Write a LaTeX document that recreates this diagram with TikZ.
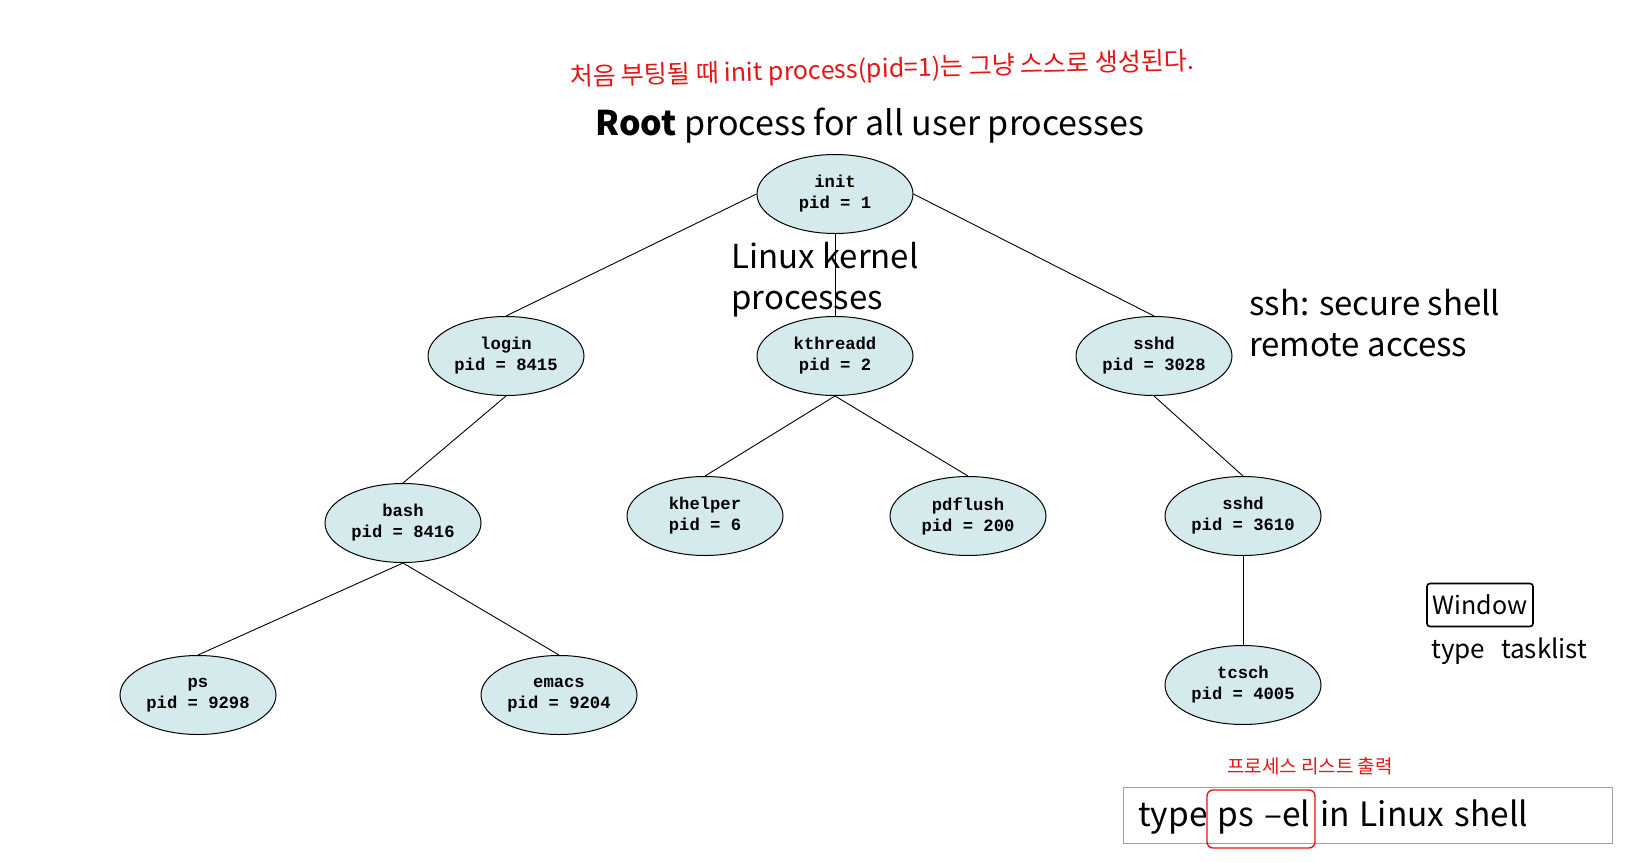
\documentclass[tikz,border=0pt]{standalone}
\usepackage{fontspec}
\usetikzlibrary{shapes.geometric}
\newfontfamily\krfont{Noto Sans CJK KR}
\setmonofont{Liberation Mono}
\definecolor{procfill}{RGB}{213,234,237}
\definecolor{boxgray}{RGB}{160,160,160}
\definecolor{penred}{RGB}{230,20,20}
\tikzset{
  proc/.style={ellipse, draw=black, line width=1pt, fill=procfill, minimum width=156pt, minimum height=79pt, inner sep=0pt, align=center, font=\ttfamily\bfseries\fontsize{17.2}{21}\selectfont},
  edge/.style={draw=black, line width=0.9pt},
  bigtext/.style={font=\krfont\fontsize{33}{41.5}\selectfont, inner sep=0pt, align=left},
  redtext/.style={font=\krfont\fontsize{25}{28}\selectfont, text=penred, inner sep=0pt},
  handtext/.style={font=\krfont\fontsize{25}{28}\selectfont, inner sep=0pt},
}
\begin{document}
\begin{tikzpicture}[x=1pt,y=-1pt]
\useasboundingbox (0,0) rectangle (1652,862);
\fill[white] (0,0) rectangle (1652,862);

% nodes
\node[proc] (init) at (835,194) {init\\pid = 1};
\node[proc] (login) at (506,356) {login\\pid = 8415};
\node[proc] (kthreadd) at (835,356) {kthreadd\\pid = 2};
\node[proc] (sshd) at (1154,356) {sshd\\pid = 3028};
\node[proc] (bash) at (403,523) {bash\\pid = 8416};
\node[proc] (khelper) at (705,516) {khelper\\pid = 6};
\node[proc] (pdflush) at (968,516) {pdflush\\pid = 200};
\node[proc] (sshdb) at (1243,516) {sshd\\pid = 3610};
\node[proc] (ps) at (198,695) {ps\\pid = 9298};
\node[proc] (emacs) at (559,695) {emacs\\pid = 9204};
\node[proc] (tcsch) at (1243,685) {tcsch\\pid = 4005};

% edges
\draw[edge] (init.west) -- (login.north);
\draw[edge] (init.south) -- (kthreadd.north);
\draw[edge] (init.east) -- (sshd.north);
\draw[edge] (login.south) -- (bash.north);
\draw[edge] (kthreadd.south) -- (khelper.north);
\draw[edge] (kthreadd.south) -- (pdflush.north);
\draw[edge] (sshd.south) -- (sshdb.north);
\draw[edge] (bash.south) -- (ps.north);
\draw[edge] (bash.south) -- (emacs.north);
\draw[edge] (sshdb.south) -- (tcsch.north);

% titles and labels
\node[redtext, anchor=center, rotate=1.5] (note) at (882,70) {처음 부팅될 때 init process(pid=1)는 그냥 스스로 생성된다.};
\node[bigtext, anchor=center, font=\krfont\fontsize{34}{41.5}\selectfont] (root) at (870,126) {\textbf{Root} process for all user processes};
\node[bigtext, anchor=north west] (kernel) at (731,242) {Linux kernel\\processes};
\node[bigtext, anchor=north west] (ssh) at (1249,289) {ssh: secure shell\\remote access};

% window note
\node[draw=black, line width=1.6pt, rounded corners=3pt, handtext, inner sep=4pt, minimum width=106pt, minimum height=43pt] (win) at (1480,605) {Window};
\node[handtext, anchor=west, font=\krfont\fontsize{26}{28}\selectfont] (task) at (1431,651) {type\hspace{16pt}tasklist};

% bottom shell box
\node[draw=boxgray, line width=1pt, minimum width=489pt, minimum height=56pt, inner sep=0pt] (shellbox) at (1367.5,815) {};
\node[bigtext, anchor=west, font=\krfont\fontsize{33.5}{41.5}\selectfont] (shelltext) at (1138,817) {\spaceskip=10pt\relax type ps –el in Linux shell};
\node[draw=penred, line width=1.4pt, rounded corners=6pt, minimum width=108pt, minimum height=58pt, inner sep=0pt] (redbox) at (1261,819) {};
\node[redtext, anchor=center, font=\krfont\fontsize{19}{24}\selectfont] (list) at (1310,766) {프로세스 리스트 출력};
\end{tikzpicture}
\end{document}
